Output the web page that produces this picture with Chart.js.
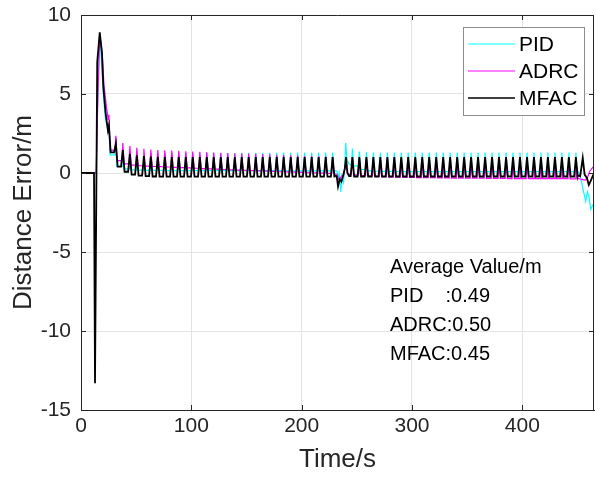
<!DOCTYPE html>
<html>
<head>
<meta charset="utf-8">
<style>
  html, body { margin: 0; padding: 0; background: #fff; }
</style>
<script src="https://cdn.jsdelivr.net/npm/chart.js@4.4.0/dist/chart.umd.min.js"></script>
</head>
<body>
<canvas id="chart" width="596" height="479"></canvas>
<script>
// times of the periodic spikes (s)
const peakTimes = [
  25.3, 31.6, 37.9, 44.3, 50.6, 57.0, 63.3, 69.6, 76.0, 82.3, 88.6, 95.0, 101.3, 107.7, 114.0, 120.3, 126.7,
  133.0, 139.4, 145.7, 152.0, 158.4, 164.7, 171.1, 177.4, 183.7, 190.1, 196.4, 202.7, 209.1, 215.4, 221.8, 228.1,
  246.0, 252.3, 258.7, 265.0, 271.3, 277.7, 284.0, 290.3, 296.6, 303.0, 309.3, 315.6, 322.0, 328.3, 334.6, 341.0,
  347.3, 353.6, 359.9, 366.3, 372.6, 378.9, 385.3, 391.6, 397.9, 404.3, 410.6, 416.9, 423.2, 429.6, 435.9, 442.2, 448.6
];
const gapIndex = 33; // disturbance sits before this spike

// PID
const pidPeak = [
  2.9, 1.75, 1.42, 1.32, 1.28, 1.26, 1.25, 1.25, 1.25, 1.25, 1.25, 1.26, 1.26, 1.26, 1.26, 1.27, 1.27,
  1.27, 1.27, 1.28, 1.28, 1.28, 1.28, 1.28, 1.29, 1.29, 1.29, 1.29, 1.29, 1.29, 1.3, 1.3, 1.3,
  1.55, 1.36, 1.32, 1.3, 1.3, 1.3, 1.3, 1.3, 1.3, 1.3, 1.3, 1.3, 1.3, 1.3, 1.3, 1.3,
  1.3, 1.3, 1.3, 1.3, 1.3, 1.3, 1.3, 1.3, 1.3, 1.3, 1.3, 1.3, 1.3, 1.3, 1.3, 1.3, 1.3
];
const pidBase = [
  1.15, 0.42, 0.26, 0.2, 0.18, 0.17, 0.16, 0.16, 0.15, 0.15, 0.15, 0.15, 0.15, 0.15, 0.15, 0.15, 0.15,
  0.15, 0.15, 0.15, 0.15, 0.15, 0.15, 0.15, 0.15, 0.14, 0.14, 0.14, 0.14, 0.14, 0.14, 0.14, 0.14,
  0.45, 0.22, 0.14, 0.11, 0.1, 0.1, 0.09, 0.09, 0.09, 0.09, 0.09, 0.09, 0.09, 0.09, 0.09, 0.09,
  0.09, 0.09, 0.09, 0.09, 0.09, 0.09, 0.09, 0.09, 0.09, 0.09, 0.09, 0.09, 0.09, 0.09, 0.09, 0.09, 0.09
];
const pidStart = [[0, 0], [13.8, 0], [15, 4], [16.8, 8.7], [18.5, 7.2], [20, 5.2], [22, 3.5], [24.6, 2.6]];
const pidGap = [[229.5, 0.15], [232, 0.12], [233, -0.3], [234, 0.0], [235.5, -1.2], [236.5, -0.2], [238, -0.6],
  [239, 0.3], [240, 1.9], [241, 0.9], [242.5, 0.6], [244, 0.55], [245.3, 0.5]];
const pidEnd = [[451, 0.08], [453, -0.3], [455, -1.0], [457.5, -1.8], [459, -1.2], [460.5, -1.5], [462, -2.3], [465, -1.9]];

// ADRC
const adrcPeak = [
  3.7, 2.35, 1.9, 1.7, 1.6, 1.53, 1.49, 1.46, 1.44, 1.42, 1.4, 1.38, 1.36, 1.34, 1.32, 1.3, 1.28,
  1.27, 1.25, 1.24, 1.23, 1.22, 1.2, 1.18, 1.16, 1.14, 1.12, 1.1, 1.08, 1.07, 1.05, 1.04, 1.02,
  0.98, 0.96, 0.95, 0.94, 0.93, 0.93, 0.92, 0.92, 0.91, 0.91, 0.9, 0.9, 0.9, 0.89, 0.89, 0.89,
  0.89, 0.88, 0.88, 0.88, 0.88, 0.88, 0.87, 0.87, 0.87, 0.87, 0.87, 0.87, 0.87, 0.86, 0.86, 0.86, 0.86
];
const adrcBase = [
  1.45, 0.78, 0.58, 0.5, 0.46, 0.43, 0.41, 0.4, 0.38, 0.36, 0.34, 0.32, 0.3, 0.28, 0.26, 0.24, 0.22,
  0.2, 0.18, 0.17, 0.15, 0.13, 0.12, 0.1, 0.08, 0.07, 0.05, 0.04, 0.02, 0.01, -0.01, -0.02, -0.04,
  -0.12, -0.16, -0.19, -0.21, -0.23, -0.25, -0.26, -0.27, -0.28, -0.29, -0.3, -0.3, -0.31, -0.31, -0.32, -0.32,
  -0.33, -0.33, -0.33, -0.34, -0.34, -0.34, -0.35, -0.35, -0.35, -0.35, -0.36, -0.36, -0.36, -0.36, -0.36, -0.37, -0.37
];
const adrcStart = [[0, 0], [13.8, 0], [15, 4], [17, 8.8], [19.3, 7.5], [20.8, 5.6], [23, 4.2], [24.6, 3.4]];
const adrcGap = [[229.5, -0.05], [232, -0.08], [234, -0.45], [236, -0.2], [238, -0.15], [240, 0.7],
  [241.5, 0.0], [243.5, -0.1], [245, -0.1]];
const adrcEnd = [[451, -0.35], [454, -0.4], [457, -0.45], [459, -0.3], [461, 0.1], [465, 0.45]];

// MFAC
const mfacPeak = [
  3.0, 1.85, 1.45, 1.22, 1.12, 1.07, 1.04, 1.02, 1.01, 1.0, 1.0, 1.0, 1.0, 1.0, 1.0, 1.0, 1.0,
  1.0, 1.0, 1.0, 1.0, 1.0, 1.0, 1.0, 1.0, 1.0, 1.0, 1.0, 1.0, 1.0, 1.0, 1.0, 1.0,
  1.0, 1.0, 1.0, 1.0, 1.0, 1.0, 1.0, 1.0, 1.0, 1.0, 1.0, 1.0, 1.0, 1.0, 1.0, 1.0,
  1.0, 1.0, 1.0, 1.0, 1.0, 1.0, 1.0, 1.0, 1.0, 1.0, 1.0, 1.0, 1.0, 1.0, 1.0, 1.0, 1.0
];
const mfacBase = [
  1.3, 0.4, 0.08, -0.1, -0.17, -0.2, -0.22, -0.23, -0.23, -0.23, -0.23, -0.23, -0.23, -0.23, -0.23, -0.23, -0.23,
  -0.23, -0.23, -0.23, -0.23, -0.23, -0.23, -0.23, -0.23, -0.23, -0.23, -0.23, -0.23, -0.23, -0.23, -0.23, -0.23,
  -0.22, -0.22, -0.22, -0.22, -0.22, -0.22, -0.22, -0.22, -0.22, -0.22, -0.22, -0.22, -0.22, -0.22, -0.22, -0.22,
  -0.22, -0.22, -0.22, -0.22, -0.22, -0.22, -0.22, -0.22, -0.22, -0.22, -0.22, -0.22, -0.22, -0.22, -0.22, -0.22, -0.22
];
const mfacStart = [[0, 0], [11.8, 0], [12.7, -13.3], [14.7, 7], [17, 8.9], [19, 7.6], [20.2, 5.5], [22.3, 3.8], [24.4, 2.7]];
const mfacGap = [[229.8, -0.15], [231.8, -0.2], [233, -0.85], [234.5, -0.4], [236, -0.55], [237.5, -0.2],
  [239.2, 0.3], [240.2, 1.0], [241.5, 0.0], [243, -0.2], [244.4, -0.2]];
const mfacEnd = [[450.5, -0.15], [452.5, -0.2], [454.8, 0.95], [456.5, -0.1], [458.5, -0.3], [460.3, -0.75], [462, -0.5], [465, 0.0]];

const averages = ['Average Value/m', 'PID    :0.49', 'ADRC:0.50', 'MFAC:0.45'];

const FONT = "'Liberation Sans', Arial, sans-serif";
const INK = '#262626';

// turn the spike list into line points; pre/post = spike half widths in seconds
function buildSeries(start, peaks, bases, gap, end, pre, post) {
  const pts = start.map(p => ({ x: p[0], y: p[1] }));
  peakTimes.forEach((t, k) => {
    if (k === gapIndex) gap.forEach(p => pts.push({ x: p[0], y: p[1] }));
    if (k > 0 && k !== gapIndex) pts.push({ x: t - pre, y: bases[k - 1] });
    pts.push({ x: t, y: peaks[k] });
    pts.push({ x: t + post, y: bases[k] });
  });
  end.forEach(p => pts.push({ x: p[0], y: p[1] }));
  return pts;
}

const series = [
  { label: 'PID', color: '#00ffff', width: 1.2, order: 2, data: buildSeries(pidStart, pidPeak, pidBase, pidGap, pidEnd, 0.7, 1.0) },
  { label: 'ADRC', color: '#ff00ff', width: 1.2, order: 1, data: buildSeries(adrcStart, adrcPeak, adrcBase, adrcGap, adrcEnd, 0.8, 1.2) },
  { label: 'MFAC', color: '#000000', width: 1.8, order: 0, data: buildSeries(mfacStart, mfacPeak, mfacBase, mfacGap, mfacEnd, 1.6, 1.6) }
];

// box, inward ticks, legend and the average text
const extras = {
  id: 'extras',
  afterDraw(chart) {
    const { ctx, chartArea: a, scales: { x, y } } = chart;
    ctx.save();
    ctx.strokeStyle = INK;
    ctx.lineWidth = 1;
    ctx.beginPath();
    ctx.moveTo(a.left, a.top + 0.5); ctx.lineTo(a.right, a.top + 0.5);
    ctx.moveTo(a.right - 0.5, a.top); ctx.lineTo(a.right - 0.5, a.bottom);
    x.ticks.forEach(t => {
      const px = Math.round(x.getPixelForValue(t.value)) + 0.5;
      ctx.moveTo(px, a.bottom); ctx.lineTo(px, a.bottom - 5);
      ctx.moveTo(px, a.top); ctx.lineTo(px, a.top + 5);
    });
    y.ticks.forEach(t => {
      const py = Math.round(y.getPixelForValue(t.value)) + 0.5;
      ctx.moveTo(a.left, py); ctx.lineTo(a.left + 5, py);
      ctx.moveTo(a.right, py); ctx.lineTo(a.right - 5, py);
    });
    ctx.stroke();

    // legend
    const lx = 463, ly = 27, lw = 121, lh = 88;
    ctx.fillStyle = '#fff';
    ctx.fillRect(lx, ly, lw, lh);
    ctx.strokeStyle = '#8c8c8c';
    ctx.strokeRect(lx + 0.5, ly + 0.5, lw, lh);
    ctx.font = '21px ' + FONT;
    ctx.textBaseline = 'middle';
    series.forEach((s, i) => {
      const rowY = ly + 17 + i * 27;
      ctx.strokeStyle = s.color;
      ctx.lineWidth = s.width === 1.8 ? 1.3 : 1;
      ctx.beginPath();
      ctx.moveTo(lx + 5, rowY); ctx.lineTo(lx + 52, rowY);
      ctx.stroke();
      ctx.fillStyle = '#000';
      ctx.fillText(s.label, lx + 56, rowY + 1);
    });

    // average values
    ctx.font = '20px ' + FONT;
    ctx.fillStyle = '#000';
    averages.forEach((txt, i) => ctx.fillText(txt, 390, 267 + i * 29));
    ctx.restore();
  }
};

new Chart(document.getElementById('chart'), {
  type: 'line',
  data: {
    datasets: series.map(s => ({
      label: s.label,
      data: s.data,
      borderColor: s.color,
      borderWidth: s.width,
      order: s.order,
      pointRadius: 0,
      tension: 0,
      fill: false
    }))
  },
  options: {
    responsive: false,
    animation: false,
    parsing: false,
    layout: { padding: { left: 0, right: 2, top: 15, bottom: 0 } },
    plugins: { legend: { display: false }, tooltip: { enabled: false } },
    scales: {
      x: {
        type: 'linear',
        min: 0,
        max: 465,
        afterFit: s => { s.height = 69; },
        ticks: { stepSize: 100, includeBounds: false, color: INK, padding: 4, maxRotation: 0, font: { family: FONT, size: 21 } },
        grid: { color: '#e3e3e3', drawTicks: false },
        border: { color: INK },
        title: { display: true, text: 'Time/s', color: INK, font: { family: FONT, size: 26 }, padding: { top: 0, bottom: 4 } }
      },
      y: {
        min: -15,
        max: 10,
        afterFit: s => { s.width = 81; s.paddingTop = 0; s.paddingBottom = 0; },
        ticks: { stepSize: 5, color: INK, padding: 10, font: { family: FONT, size: 21 } },
        grid: { color: '#e3e3e3', drawTicks: false },
        border: { color: INK },
        title: { display: true, text: 'Distance Error/m', color: INK, font: { family: FONT, size: 26 }, padding: { top: 8, bottom: 0 } }
      }
    }
  },
  plugins: [extras]
});
</script>
</body>
</html>
